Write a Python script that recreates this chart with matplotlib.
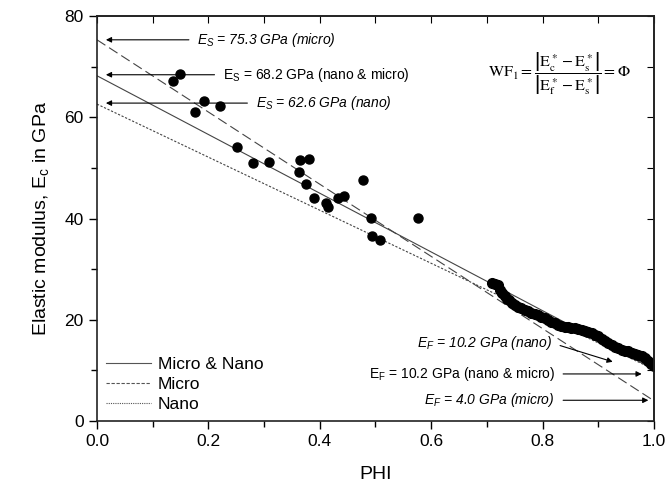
import numpy as np
import matplotlib
matplotlib.use("Agg")
import matplotlib.pyplot as plt
from matplotlib.lines import Line2D

plt.rcParams['font.family'] = ['Liberation Sans', 'DejaVu Sans']
plt.rcParams['mathtext.fontset'] = 'custom'
plt.rcParams['mathtext.rm'] = 'Liberation Sans'
plt.rcParams['mathtext.it'] = 'Liberation Sans:italic'

# measured points (PHI, elastic modulus in GPa)
phi_pts = [0.136, 0.149, 0.176, 0.193, 0.221, 0.252, 0.281, 0.309, 0.363, 0.364,
           0.375, 0.381, 0.390, 0.411, 0.415, 0.432, 0.444, 0.477, 0.492, 0.493,
           0.508, 0.576]
e_pts = [67.1, 68.5, 61.1, 63.2, 62.2, 54.1, 50.9, 51.2, 49.1, 51.6,
         46.8, 51.8, 44.1, 43.0, 42.3, 44.0, 44.4, 47.7, 40.1, 36.5,
         35.7, 40.2]

# dense run of points near PHI 0.7 - 1.0
phi_dense = [0.710, 0.715, 0.720, 0.724, 0.728, 0.732, 0.736, 0.740, 0.745, 0.750,
             0.756, 0.762, 0.768, 0.774, 0.780, 0.786, 0.792, 0.798, 0.804, 0.810,
             0.816, 0.822, 0.828, 0.834, 0.840, 0.846, 0.852, 0.858, 0.864, 0.870,
             0.876, 0.882, 0.888, 0.894, 0.900, 0.906, 0.912, 0.918, 0.924, 0.930,
             0.936, 0.942, 0.948, 0.954, 0.960, 0.966, 0.972, 0.978, 0.984, 0.990,
             0.995, 1.000]
e_dense = [27.3, 27.0, 26.8, 25.8, 25.2, 24.6, 24.2, 23.9, 23.4, 23.0,
           22.6, 22.3, 22.0, 21.7, 21.4, 21.1, 20.9, 20.6, 20.3, 20.0,
           19.6, 19.3, 19.0, 18.7, 18.6, 18.5, 18.4, 18.3, 18.2, 18.0,
           17.8, 17.6, 17.4, 17.0, 16.7, 16.3, 15.9, 15.5, 15.0, 14.7,
           14.4, 14.1, 13.8, 13.8, 13.5, 13.3, 13.1, 12.8, 12.4, 11.8,
           11.2, 10.8]

# model lines: E_s at PHI=0, E_f at PHI=1
series = ['Micro & Nano', 'Micro', 'Nano']
e_s = [68.2, 75.3, 62.6]
e_f = [10.2, 4.0, 10.2]
styles = ['-', (0, (9, 4)), (0, (2, 1.5))]
legend_styles = ['-', (0, (3, 1.5)), (0, (1, 1))]

fig = plt.figure(figsize=(6.67, 4.93), dpi=100)
ax = fig.add_axes([0.1454, 0.146, 0.835, 0.8215])

phi_line = np.array([0.0, 1.0])
for es, ef, ls in zip(e_s, e_f, styles):
    ax.plot(phi_line, es + phi_line * (ef - es), color='#444444', lw=0.8, ls=ls)

ax.plot(phi_pts, e_pts, 'o', color='black', ms=6.5, mec='black')
ax.plot(phi_dense, e_dense, 'o', color='black', ms=7, mec='black')

arrow = dict(arrowstyle='-|>', color='black', lw=0.8, mutation_scale=8,
             shrinkA=4, shrinkB=0)
fs = 10

# left-hand labels (E_s)
ax.annotate('$E_S$ = 75.3 GPa (micro)', xy=(0.016, 75.3), xytext=(0.180, 75.3),
            ha='left', va='center', fontsize=fs, fontstyle='italic',
            arrowprops=dict(arrow, relpos=(0, 0.5)))
ax.annotate(r'$\mathrm{E_S}$ = 68.2 GPa (nano & micro)', xy=(0.016, 68.4), xytext=(0.226, 68.4),
            ha='left', va='center', fontsize=fs,
            arrowprops=dict(arrow, relpos=(0, 0.5)))
ax.annotate('$E_S$ = 62.6 GPa (nano)', xy=(0.016, 62.8), xytext=(0.285, 62.8),
            ha='left', va='center', fontsize=fs, fontstyle='italic',
            arrowprops=dict(arrow, relpos=(0, 0.5)))

# right-hand labels (E_f)
ax.annotate('$E_F$ = 10.2 GPa (nano)', xy=(0.926, 11.7), xytext=(0.817, 15.4),
            ha='right', va='center', fontsize=fs, fontstyle='italic',
            arrowprops=dict(arrow, relpos=(1, 0.5)))
ax.annotate(r'$\mathrm{E_F}$ = 10.2 GPa (nano & micro)', xy=(0.978, 9.3), xytext=(0.822, 9.3),
            ha='right', va='center', fontsize=fs,
            arrowprops=dict(arrow, relpos=(1, 0.5)))
ax.annotate('$E_F$ = 4.0 GPa (micro)', xy=(0.99, 4.1), xytext=(0.822, 4.1),
            ha='right', va='center', fontsize=fs, fontstyle='italic',
            arrowprops=dict(arrow, relpos=(1, 0.5)))

# WF formula
ax.text(0.831, 68.7,
        r'$\mathrm{WF_1}=\dfrac{\left|\mathrm{E_c^*-E_s^*}\right|}{\left|\mathrm{E_f^*-E_s^*}\right|}=\Phi$',
        ha='center', va='center', fontsize=11.5, math_fontfamily='stix')

handles = [Line2D([], [], color='#555555', lw=0.8, ls=ls) for ls in legend_styles]
ax.legend(handles, series, loc='lower left', frameon=False, fontsize=12.5,
          handlelength=2.6, handletextpad=0.4, labelspacing=0.3,
          borderaxespad=0.3, borderpad=0.2)

ax.set_xlim(0, 1)
ax.set_ylim(0, 80)
ax.set_xticks(np.arange(0, 1.01, 0.2))
ax.set_xticks(np.arange(0.1, 1.0, 0.2), minor=True)
ax.set_yticks(np.arange(0, 81, 20))
ax.set_yticks(np.arange(10, 80, 20), minor=True)
ax.tick_params(which='major', direction='out', length=6, width=1, labelsize=12.5)
ax.tick_params(which='minor', direction='out', length=4, width=1)

top = ax.secondary_xaxis('top')
top.set_xticks(np.arange(0, 1.01, 0.1))
top.tick_params(direction='in', length=5, labeltop=False)
right = ax.secondary_yaxis('right')
right.set_yticks(np.arange(0, 81, 10))
right.tick_params(direction='in', length=5, labelright=False)

for sp in list(ax.spines.values()) + [top.spines['top'], right.spines['right']]:
    sp.set_linewidth(1.2)
    sp.set_color('#222222')

ax.set_xlabel('PHI', fontsize=14, labelpad=12)
ax.set_ylabel('Elastic modulus, E$_\\mathrm{c}$ in GPa', fontsize=14, labelpad=10)

fig.savefig('out.png', dpi=100)
